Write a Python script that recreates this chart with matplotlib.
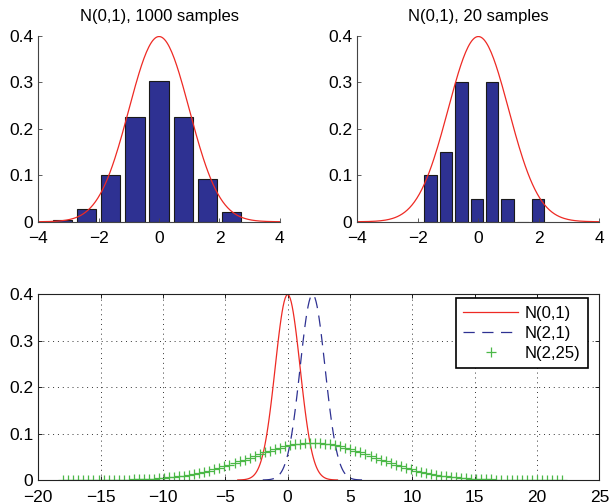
import numpy as np
import matplotlib
matplotlib.use("Agg")
import matplotlib.pyplot as plt
from matplotlib.ticker import FuncFormatter

plt.rcParams['font.family'] = ['Liberation Sans', 'DejaVu Sans']
plt.rcParams['font.size'] = 12.5

# histogram data (fraction of samples per bin)
centers_1000 = [-3.2, -2.4, -1.6, -0.8, 0.0, 0.8, 1.6, 2.4]
freq_1000 = [0.004, 0.027, 0.101, 0.226, 0.303, 0.226, 0.093, 0.020]
centers_20 = [-1.58, -1.07, -0.56, -0.05, 0.46, 0.96, 1.47, 1.98]
freq_20 = [0.10, 0.15, 0.30, 0.05, 0.30, 0.05, 0.0, 0.05]

# normal curves: labels, means, variances
curve_labels = ['N(0,1)', 'N(2,1)', 'N(2,25)']
curve_mu = [0, 2, 2]
curve_var = [1, 1, 25]

bar_col = '#2e3192'
red = '#ee2a24'
green = '#4cb848'


def gauss(x, mu, var):
    return np.exp(-(x - mu) ** 2 / (2 * var)) / np.sqrt(2 * np.pi * var)


def fmt(v, pos):
    s = ('%g' % v)
    return s.replace('-', '\u2212')


fig = plt.figure(figsize=(6.1, 5.04), dpi=100)

top_axes = [fig.add_axes([0.0628, 0.560, 0.396, 0.3685]),
            fig.add_axes([0.5857, 0.560, 0.397, 0.3685])]
hist_data = [(centers_1000, freq_1000, 'N(0,1), 1000 samples'),
             (centers_20, freq_20, 'N(0,1), 20 samples')]

for ax, (c, f, title) in zip(top_axes, hist_data):
    w = 0.8 * (c[1] - c[0])
    ax.bar(c, f, width=w, color=bar_col, edgecolor='#1a1a1a', linewidth=0.8)
    xx = np.linspace(-4, 4, 200)
    ax.plot(xx, gauss(xx, 0, 1), color=red, lw=0.9)
    ax.set_xlim(-4, 4)
    ax.set_ylim(0, 0.4)
    ax.set_xticks([-4, -2, 0, 2, 4])
    ax.set_yticks([0, 0.1, 0.2, 0.3, 0.4])
    ax.xaxis.set_major_formatter(FuncFormatter(fmt))
    ax.yaxis.set_major_formatter(FuncFormatter(fmt))
    ax.spines['top'].set_visible(False)
    ax.spines['right'].set_visible(False)
    for s in ['left', 'bottom']:
        ax.spines[s].set_color('#444444')
        ax.spines[s].set_linewidth(0.8)
    ax.tick_params(direction='in', length=3, width=0.6, colors='#444444',
                   labelcolor='black', labelsize=12.5)
    ax.tick_params(axis='x', pad=7)
    ax.tick_params(axis='y', pad=3.5)
    ax.set_title(title, fontsize=12, pad=11)

ax = fig.add_axes([0.0628, 0.0476, 0.9197, 0.369])
styles = [dict(color=red, lw=0.9, ls='-'),
          dict(color=bar_col, lw=0.9, ls=(0, (9, 6))),
          dict(color=green, lw=0, marker='+', ms=7, mew=0.9)]
for lab, mu, var, st in zip(curve_labels, curve_mu, curve_var, styles):
    sd = np.sqrt(var)
    xx = np.linspace(mu - 4 * sd, mu + 4 * sd, 100)
    ax.plot(xx, gauss(xx, mu, var), label=lab, **st)

ax.set_xlim(-20, 25)
ax.set_ylim(0, 0.4)
ax.set_xticks(np.arange(-20, 26, 5))
ax.set_yticks([0, 0.1, 0.2, 0.3, 0.4])
ax.xaxis.set_major_formatter(FuncFormatter(fmt))
ax.yaxis.set_major_formatter(FuncFormatter(fmt))
ax.grid(True, ls=(0, (1, 4)), color='#333333', lw=0.7)
for s in ax.spines.values():
    s.set_color('#222222')
    s.set_linewidth(0.8)
ax.tick_params(direction='in', length=3, width=0.6, top=True, right=True,
               labelsize=12.5)
ax.tick_params(axis='x', pad=7)
ax.tick_params(axis='y', pad=3.5)
leg = ax.legend(loc='upper right', bbox_to_anchor=(0.980, 0.978),
                fancybox=False, framealpha=1, edgecolor='black',
                fontsize=12, handlelength=3.3, borderpad=0.45,
                labelspacing=0.3, handletextpad=0.4, borderaxespad=0)
leg.get_frame().set_linewidth(1.2)

fig.savefig('out.png', dpi=100)
